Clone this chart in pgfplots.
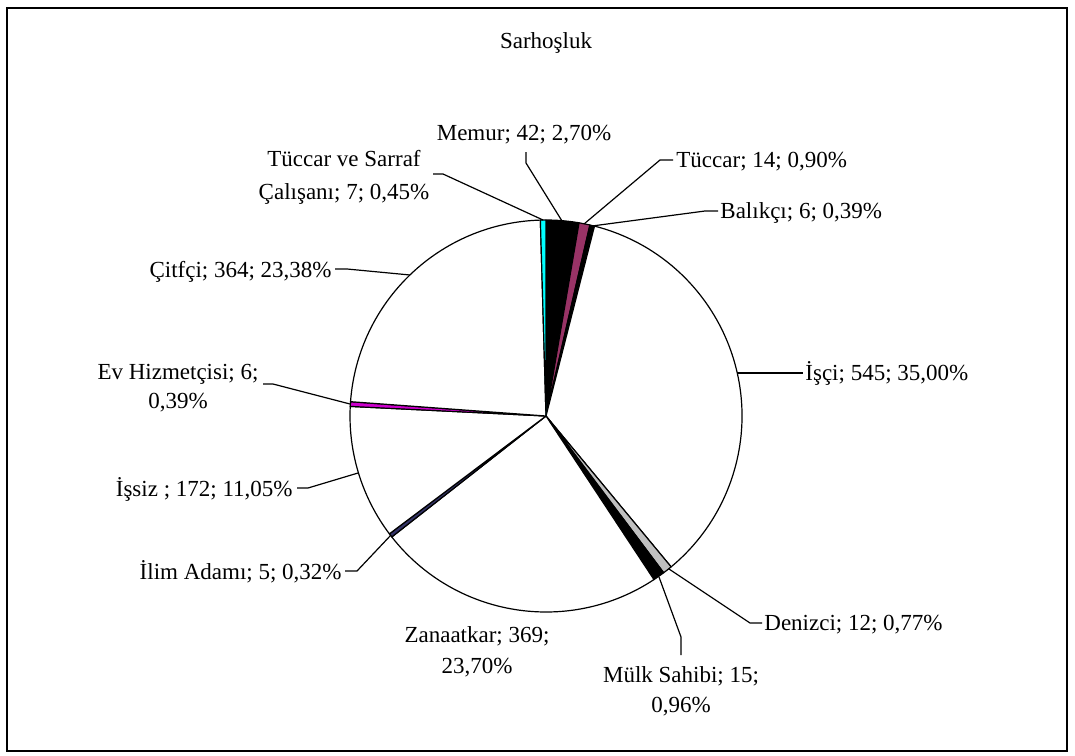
\documentclass[border=0pt]{standalone}
\usepackage{pgfplots}
\usepackage{pgfplotstable}
\pgfplotsset{compat=1.18}
\usepackage{fontspec}
\setmainfont{Liberation Serif}

\definecolor{ctuccar}{HTML}{993366}
\definecolor{cdenizci}{HTML}{C0C0C0}
\definecolor{cilim}{HTML}{333366}
\definecolor{cev}{HTML}{CC00CC}
\definecolor{csarraf}{HTML}{00FFFF}

% order: clockwise from 12 o'clock
\pgfplotstableread{
value fillc
42 black
14 ctuccar
6 black
545 white
12 cdenizci
15 black
369 white
5 cilim
172 white
6 cev
364 white
7 csarraf
}\piedata

\tikzset{lbl/.style={font=\fontsize{11.5}{15}\selectfont, inner sep=0pt},
         lead/.style={line width=0.6pt}}

\begin{document}
\begin{tikzpicture}
\begin{axis}[
  width=537.5pt, height=377.5pt, scale only axis,
  xmin=0, xmax=1075, ymin=0, ymax=755, y dir=reverse,
  hide axis, clip=false,
]
\path (axis cs:0,0) rectangle (axis cs:1075,755);
\draw[line width=1pt] (axis cs:7,8) rectangle (axis cs:1067,751);

% total
\pgfplotstablegetrowsof{\piedata}
\pgfmathtruncatemacro{\nrows}{\pgfplotsretval-1}
\def\total{0}
\pgfplotsforeachungrouped \i in {0,...,\nrows}{%
  \pgfplotstablegetelem{\i}{value}\of\piedata
  \pgfmathsetmacro{\total}{\total+\pgfplotsretval}%
}
% wedges
\def\startang{90}
\pgfplotsforeachungrouped \i in {0,...,\nrows}{%
  \pgfplotstablegetelem{\i}{value}\of\piedata
  \pgfmathsetmacro{\frac}{\pgfplotsretval/\total}%
  \pgfmathsetmacro{\endang}{\startang-360*\frac}%
  \pgfplotstablegetelem{\i}{fillc}\of\piedata
  \edef\wedgecmd{\noexpand\filldraw[fill=\pgfplotsretval,draw=black,line width=0.6pt,line join=round] (axis cs:546,416) -- ++(\startang:98pt) arc[start angle=\startang,end angle=\endang,radius=98pt] -- cycle;}%
  \wedgecmd
  \let\startang\endang
}

% title
\node[lbl,anchor=base] at (axis cs:546,48) {Sarhoşluk};

% leader lines
\draw[lead] (axis cs:526,152) -- (axis cs:526,163) -- (axis cs:562,221);
\draw[lead] (axis cs:433,174) -- (axis cs:443,174) -- (axis cs:543,220);
\draw[lead] (axis cs:673,160) -- (axis cs:660,160) -- (axis cs:584,224);
\draw[lead] (axis cs:718,211) -- (axis cs:705,211) -- (axis cs:592,226);
\draw[lead] (axis cs:737,373) -- (axis cs:803,373);
\draw[lead] (axis cs:669,569) -- (axis cs:750,623) -- (axis cs:762,623);
\draw[lead] (axis cs:659,577) -- (axis cs:681,637) -- (axis cs:681,655);
\draw[lead] (axis cs:391,535) -- (axis cs:357,571) -- (axis cs:345,571);
\draw[lead] (axis cs:358,473) -- (axis cs:308,488) -- (axis cs:297,488);
\draw[lead] (axis cs:350,404) -- (axis cs:273,384) -- (axis cs:263,384);
\draw[lead] (axis cs:410,275) -- (axis cs:347,269) -- (axis cs:335,269);

% labels
\node[lbl,anchor=base] at (axis cs:524,140) {Memur; 42; 2,70\%};
\node[lbl,anchor=base] at (axis cs:344,166) {Tüccar ve Sarraf};
\node[lbl,anchor=base] at (axis cs:344,199) {Çalışanı; 7; 0,45\%};
\node[lbl,anchor=base west] at (axis cs:676,167) {Tüccar; 14; 0,90\%};
\node[lbl,anchor=base west] at (axis cs:720,218) {Balıkçı; 6; 0,39\%};
\node[lbl,anchor=base west] at (axis cs:805,380) {İşçi; 545; 35,00\%};
\node[lbl,anchor=base west] at (axis cs:764,630) {Denizci; 12; 0,77\%};
\node[lbl,anchor=base] at (axis cs:681,682) {Mülk Sahibi; 15;};
\node[lbl,anchor=base] at (axis cs:681,712) {0,96\%};
\node[lbl,anchor=base] at (axis cs:477,642) {Zanaatkar; 369;};
\node[lbl,anchor=base] at (axis cs:477,673) {23,70\%};
\node[lbl,anchor=base east] at (axis cs:342,579) {İlim Adamı; 5; 0,32\%};
\node[lbl,anchor=base east] at (axis cs:293,496) {İşsiz ; 172; 11,05\%};
\node[lbl,anchor=base] at (axis cs:178,379) {Ev Hizmetçisi; 6;};
\node[lbl,anchor=base] at (axis cs:178,408) {0,39\%};
\node[lbl,anchor=base east] at (axis cs:332,277) {Çitfçi; 364; 23,38\%};
\end{axis}
\end{tikzpicture}
\end{document}
